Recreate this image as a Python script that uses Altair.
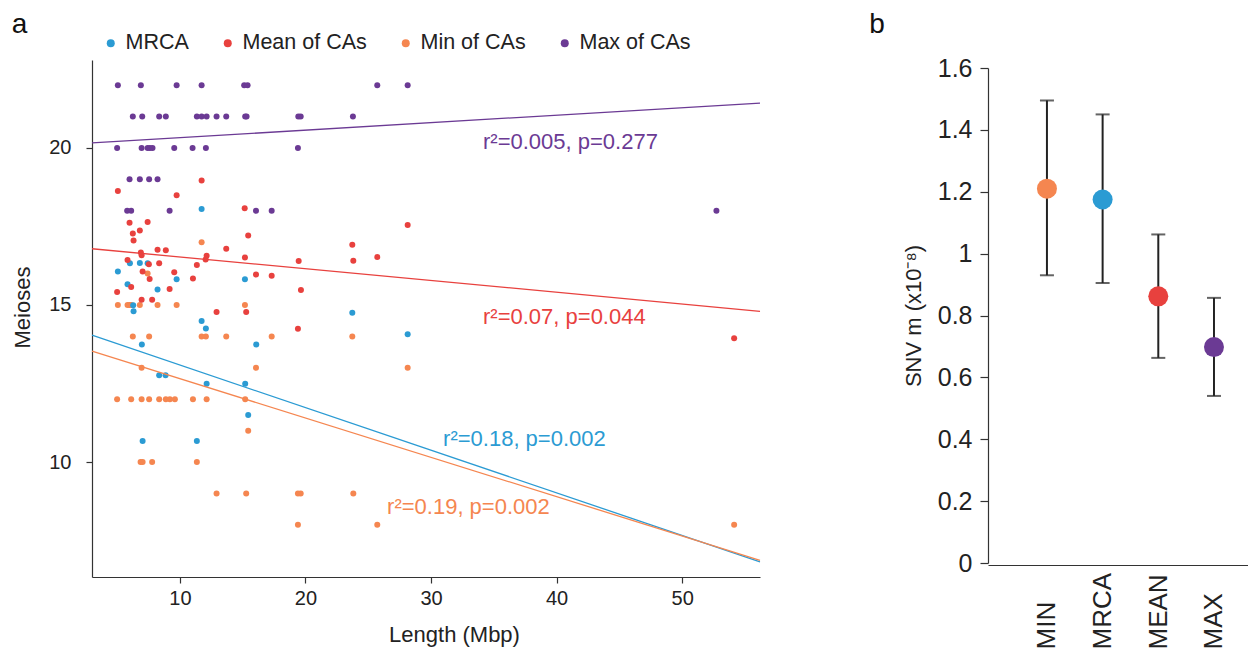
import altair as alt
import pandas as pd

FONT = "Liberation Sans"

# ---------------- Panel a data ----------------
series_names = ["MRCA", "Mean of CAs", "Min of CAs", "Max of CAs"]
series_colors = ["#2b9bd3", "#e8413e", "#f58650", "#6b3a94"]
draw_rank = [1, 2, 0, 3]  # drawing order (Min under MRCA under Mean under Max)

mrca_len = [11.73, 6.02, 6.81, 7.43, 5.06, 9.74, 15.18, 5.83, 8.22, 6.28, 6.31, 11.73,
            12.07, 6.97, 16.08, 8.35, 8.86, 12.13, 15.2, 15.44, 7.03, 11.35, 23.73, 28.14]
mrca_meioses = [18.06, 16.33, 16.34, 16.33, 16.07, 15.82, 15.82, 15.66, 15.49, 14.99, 14.8, 14.49,
                14.25, 13.74, 13.74, 12.76, 12.76, 12.49, 12.49, 11.5, 10.67, 10.67, 14.75, 14.07]

mean_len = [5.06, 5.99, 6.25, 6.31, 6.81, 6.89, 6.95, 7.03, 7.43, 7.53, 7.59, 8.22, 8.35, 8.88,
            9.18, 9.55, 9.74, 11.04, 11.35, 11.73, 12.05, 12.13, 12.92, 13.69, 15.16, 15.18,
            15.28, 15.44, 16.06, 17.31, 19.40, 19.46, 19.64, 5.83, 6.12, 5.0, 6.95, 7.79,
            23.73, 23.81, 25.72, 28.14, 54.14]
mean_meioses = [18.63, 17.62, 17.28, 17.05, 17.37, 16.67, 16.58, 16.07, 17.64, 16.30, 15.83, 16.76,
                16.33, 16.74, 15.51, 16.04, 18.49, 15.84, 16.27, 18.96, 16.45, 16.57, 14.78, 16.79,
                18.08, 16.51, 14.78, 17.21, 15.97, 15.93, 14.24, 16.40, 15.48, 16.43, 15.57, 15.41,
                15.17, 15.17, 16.92, 16.41, 16.53, 17.55, 13.94]

min_len = [11.73, 7.43,
           5.06, 5.83, 5.99, 6.12, 6.81, 8.22, 9.74, 15.18,
           6.25, 7.55, 11.73, 12.07, 13.69, 17.31, 23.73,
           6.95, 16.06, 28.14,
           5.0, 6.12, 6.95, 7.55, 8.35, 8.88, 9.2, 9.6, 11.04, 12.13, 15.2,
           15.44,
           6.87, 7.03, 7.79, 11.35,
           12.92, 15.28, 19.4, 19.62, 23.81,
           19.4, 25.72, 54.14]
min_meioses = [17, 16,
               15, 15, 15, 15, 15, 15, 15, 15,
               14, 14, 14, 14, 14, 14, 14,
               13, 13, 13,
               12, 12, 12, 12, 12, 12, 12, 12, 12, 12, 12,
               11,
               10, 10, 10, 10,
               9, 9, 9, 9, 9,
               8, 8, 8]

max_len = [5.06, 6.89, 9.74, 11.73, 15.12, 15.39, 25.72, 28.14,
           6.25, 7.0, 8.35, 8.88, 11.35, 11.73, 12.13, 12.92, 13.69, 15.2, 15.31, 19.43, 19.62, 23.78,
           5.0, 6.95, 7.43, 7.61, 7.82, 9.55, 11.01, 12.07, 19.4,
           5.99, 6.81, 7.55, 8.22,
           5.8, 6.12, 9.18, 16.06, 17.31, 52.73]
max_meioses = [22, 22, 22, 22, 22, 22, 22, 22,
               21, 21, 21, 21, 21, 21, 21, 21, 21, 21, 21, 21, 21, 21,
               20, 20, 20, 20, 20, 20, 20, 20, 20,
               19, 19, 19, 19,
               18, 18, 18, 18, 18, 18]

# regression lines (end points)
fit_x0 = [3.0, 3.0, 3.0, 3.0]
fit_x1 = [56.2, 56.2, 56.2, 56.2]
fit_y0 = [14.04, 16.79, 13.53, 20.16]
fit_y1 = [6.82, 14.80, 6.87, 21.43]

# annotation labels
ann_text = ["r²=0.18, p=0.002", "r²=0.07, p=0.044", "r²=0.19, p=0.002", "r²=0.005, p=0.277"]
ann_x = [30.96, 34.14, 26.5, 34.14]
ann_y = [10.73, 14.62, 8.57, 20.19]

# ---------------- Panel b data ----------------
cats = ["MIN", "MRCA", "MEAN", "MAX"]
cat_colors = ["#f58650", "#2b9bd3", "#e8413e", "#6b3a94"]
rate = [1.21, 1.175, 0.862, 0.698]
rate_lo = [0.93, 0.905, 0.663, 0.54]
rate_hi = [1.495, 1.45, 1.062, 0.857]

# ---------------- build tables ----------------
rows = []
for s, L, M in zip(series_names, [mrca_len, mean_len, min_len, max_len],
                   [mrca_meioses, mean_meioses, min_meioses, max_meioses]):
    for l, m in zip(L, M):
        rows.append({"series": s, "length": l, "meioses": m,
                     "rank": draw_rank[series_names.index(s)]})
pts = pd.DataFrame(rows)

fit_rows = []
for s, a0, a1, b0, b1 in zip(series_names, fit_x0, fit_x1, fit_y0, fit_y1):
    fit_rows.append({"series": s, "length": a0, "meioses": b0})
    fit_rows.append({"series": s, "length": a1, "meioses": b1})
fits = pd.DataFrame(fit_rows)

ann = pd.DataFrame({"series": series_names, "text": ann_text, "length": ann_x, "meioses": ann_y})

dfb = pd.DataFrame({"cat": cats, "rate": rate, "lo": rate_lo, "hi": rate_hi})

# ---------------- Panel a ----------------
cscale = alt.Scale(domain=series_names, range=series_colors)
xscale = alt.Scale(domain=[3, 56.2], nice=False, zero=False)
yscale = alt.Scale(domain=[6.34, 22.8], nice=False, zero=False)

xaxis = alt.Axis(values=[10, 20, 30, 40, 50], title="Length (Mbp)", tickSize=6,
                 labelFontSize=20, titleFontSize=22, labelPadding=5, titlePadding=16,
                 titleX=362)
yaxis = alt.Axis(values=[10, 15, 20], title="Meioses", tickSize=6, labelFontSize=20,
                 titleFontSize=22, labelPadding=15, titlePadding=14, titleY=247)

points = alt.Chart(pts).mark_circle(size=36, opacity=1).encode(
    x=alt.X("length:Q", scale=xscale, axis=xaxis),
    y=alt.Y("meioses:Q", scale=yscale, axis=yaxis),
    color=alt.Color("series:N", scale=cscale, legend=alt.Legend(
        title=None, orient="none", legendX=8, legendY=-28, direction="horizontal",
        symbolType="circle", symbolSize=64, symbolStrokeWidth=0, labelFontSize=21.5,
        labelFont=FONT, columnPadding=28, labelOffset=4, labelColor="#222")),
    order=alt.Order("rank:Q"),
)

lines = alt.Chart(fits).mark_line(strokeWidth=1.3).encode(
    x="length:Q", y="meioses:Q",
    color=alt.Color("series:N", scale=cscale, legend=None),
    detail="series:N",
)

texts = alt.Chart(ann).mark_text(align="left", baseline="middle", fontSize=22, font=FONT).encode(
    x="length:Q", y="meioses:Q", text="text:N",
    color=alt.Color("series:N", scale=cscale, legend=None),
)

panel_a = alt.layer(points, lines, texts).properties(
    width=668, height=517,
    title=alt.TitleParams("a", anchor="start", fontSize=28, fontWeight="normal",
                          font=FONT, offset=-6.5, color="#111"),
)

# ---------------- Panel b ----------------
bscale_c = alt.Scale(domain=cats, range=cat_colors)
xb = alt.X("cat:N", sort=cats, scale=alt.Scale(type="point", padding=0.835, align=0.634),
           axis=alt.Axis(title=None, labelAngle=270, labelAlign="left", labelBaseline="middle",
                         ticks=False, tickSize=0, labelPadding=84, labelFontSize=26))
# value axis starts a little below panel a's plot top
yb_scale = alt.Scale(domain=[0, 1.6], nice=False, range=[503, 8])

bars = alt.Chart(dfb).mark_rule(color="#222", strokeWidth=2).encode(
    x=xb,
    y=alt.Y("lo:Q", scale=yb_scale,
            axis=alt.Axis(values=[0, 0.2, 0.4, 0.6, 0.8, 1.0, 1.2, 1.4, 1.6], format="~g",
                          title="SNV m (x10⁻⁸)", tickSize=8, labelFontSize=25,
                          titleFontSize=22, labelPadding=8, titlePadding=12)),
    y2="hi:Q",
)
cap_lo = alt.Chart(dfb).mark_tick(color="#222", thickness=2, size=14).encode(
    x=xb, y=alt.Y("lo:Q", scale=yb_scale))
cap_hi = alt.Chart(dfb).mark_tick(color="#222", thickness=2, size=14).encode(
    x=xb, y=alt.Y("hi:Q", scale=yb_scale))
dots = alt.Chart(dfb).mark_circle(size=400, opacity=1).encode(
    x=xb, y=alt.Y("rate:Q", scale=yb_scale),
    color=alt.Color("cat:N", scale=bscale_c, legend=None),
)

panel_b = alt.layer(bars, cap_lo, cap_hi, dots).properties(
    width=260, height=505,
    title=alt.TitleParams("b", anchor="start", fontSize=28, fontWeight="normal",
                          font=FONT, offset=17, dx=-33, color="#111"),
)

chart = alt.concat(panel_a, panel_b, columns=2, spacing=106, align="none").properties(
    padding={"left": 3, "top": 2, "right": 0, "bottom": 0}
).resolve_scale(color="independent").configure_view(stroke=None).configure_axis(
    grid=False, domainColor="#333", tickColor="#333", labelColor="#222", titleColor="#222",
    labelFont=FONT, titleFont=FONT, titleFontWeight="normal", domainWidth=1.2, tickWidth=1.2,
)

chart.save("out.html", embed_options={"renderer": "svg", "actions": False})
